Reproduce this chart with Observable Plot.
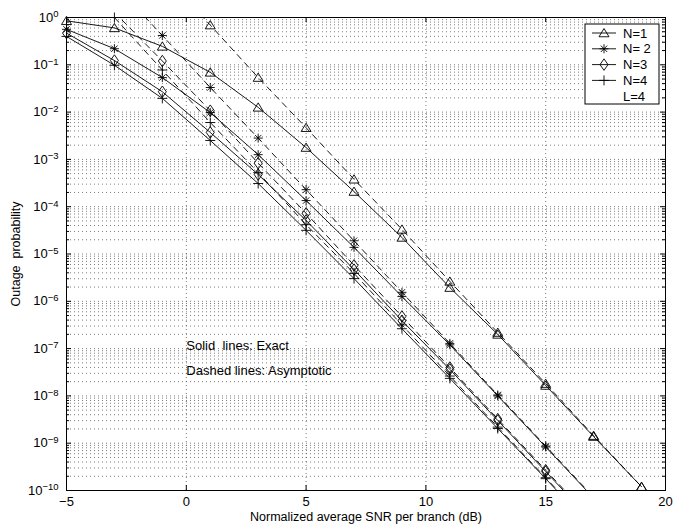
<!DOCTYPE html>
<html><head><meta charset="utf-8">
<script src="https://cdn.jsdelivr.net/npm/d3@7"></script>
<script src="https://cdn.jsdelivr.net/npm/@observablehq/plot@0.6"></script>
<style>body{margin:0;background:#fff;} #chart svg{display:block;}</style>
</head><body><div id="chart"></div>
<script>
// ---------- data (log10 of outage probability; null = no point) ----------
const snr = [-5, -3, -1, 1, 3, 5, 7, 9, 11, 13, 15, 17, 19];
const n1ExactLog = [-0.07, -0.22, -0.61, -1.16, -1.90, -2.75, -3.68, -4.65, -5.71, -6.70, -7.78, -8.86, -9.92];
const n1AsymLog  = [null, null, 0.92, -0.16, -1.27, -2.33, -3.42, -4.48, -5.58, -6.66, -7.74, -8.84, -9.92];
const n2ExactLog = [-0.25, -0.66, -1.27, -2.01, -2.90, -3.87, -4.86, -5.90, -6.92, -8.00, -9.08, -10.16, null];
const n2AsymLog  = [null, 0.70, -0.38, -1.48, -2.55, -3.64, -4.72, -5.81, -6.89, -7.98, -9.06, -10.14, null];
const n3ExactLog = [-0.33, -0.91, -1.57, -2.43, -3.32, -4.29, -5.33, -6.41, -7.44, -8.52, -9.60, -10.68, null];
const n3AsymLog  = [null, 0.11, -0.92, -1.97, -3.08, -4.14, -5.24, -6.32, -7.40, -8.49, -9.57, -10.65, null];
const n4ExactLog = [-0.40, -1.01, -1.71, -2.60, -3.51, -4.50, -5.52, -6.58, -7.63, -8.69, -9.75, -10.83, null];
const n4AsymLog  = [null, 0.00, -1.11, -2.22, -3.28, -4.38, -5.41, -6.50, -7.58, -8.66, -9.73, -10.81, null];

const seriesNames = ["N=1", "N=2", "N=3", "N=4"];
const legendLabels = ["N=1", "N= 2", "N=3", "N=4", "L=4"];
const xTicks = [-5, 0, 5, 10, 15, 20];
const xGridValues = [0, 5, 10, 15];
const yExponents = [-10, -9, -8, -7, -6, -5, -4, -3, -2, -1, 0];
const annotationText = ["Solid  lines: Exact", "Dashed lines: Asymptotic"];
const annotationSnr = [0, 0];
const annotationLog = [-6.95, -7.46];
const xLabel = "Normalized average SNR per branch (dB)";
const yLabel = "Outage  probability";

// ---------- MATLAB-like marker symbols ----------
const rad = (size) => Math.sqrt(size / Math.PI);
const symTriangle = {draw(c, size) { const s = rad(size); c.moveTo(0, -0.9 * s); c.lineTo(s, 0.75 * s); c.lineTo(-s, 0.75 * s); c.closePath(); }};
const symStar = {draw(c, size) { const s = rad(size), a = 0.9 * s, b = 0.64 * s;
  c.moveTo(-a, 0); c.lineTo(a, 0); c.moveTo(0, -a); c.lineTo(0, a);
  c.moveTo(-b, -b); c.lineTo(b, b); c.moveTo(-b, b); c.lineTo(b, -b); }};
const symDiamond = {draw(c, size) { const s = rad(size); c.moveTo(0, -1.15 * s); c.lineTo(0.8 * s, 0); c.lineTo(0, 1.15 * s); c.lineTo(-0.8 * s, 0); c.closePath(); }};
const symPlus = {draw(c, size) { const s = rad(size); c.moveTo(-s, 0); c.lineTo(s, 0); c.moveTo(0, -s); c.lineTo(0, s); }};
const symbols = [symTriangle, symStar, symDiamond, symPlus];

const exactSets = [n1ExactLog, n2ExactLog, n3ExactLog, n4ExactLog];
const asymSets = [n1AsymLog, n2AsymLog, n3AsymLog, n4AsymLog];

const rows = [];
seriesNames.forEach((name, k) => {
  [["exact", exactSets[k]], ["asym", asymSets[k]]].forEach(([kind, arr]) => {
    arr.forEach((v, i) => { if (v !== null) rows.push({series: name, kind, key: name + kind, snr: snr[i], p: Math.pow(10, v)}); });
  });
});
const visible = (d) => d.p >= 0.95e-10 && d.p <= 1.02;

const yMajor = yExponents.map(e => Math.pow(10, e));
const yMinor = [];
yExponents.slice(0, -1).forEach(e => { for (let m = 2; m <= 9; m++) yMinor.push(m * Math.pow(10, e)); });

const W = 683, H = 527, mL = 66, mR = 18, mT = 17, mB = 37;
const fw = W - mL - mR, fh = H - mT - mB;
const gridStyle = {stroke: "#444", strokeWidth: 0.7, strokeDasharray: "1,3"};

const marks = [
  Plot.ruleY([...yMajor, ...yMinor], gridStyle),
  Plot.ruleX(xGridValues, gridStyle),
  Plot.line(rows.filter(d => d.kind === "exact"), {x: "snr", y: "p", z: "key", stroke: "black", strokeWidth: 0.9, clip: true}),
  Plot.line(rows.filter(d => d.kind === "asym"), {x: "snr", y: "p", z: "key", stroke: "black", strokeWidth: 0.9, strokeDasharray: "6,5", clip: true}),
  ...seriesNames.map((name, k) => Plot.dot(rows.filter(d => d.series === name && visible(d)),
    {x: "snr", y: "p", symbol: symbols[k], r: 5, stroke: "black", strokeWidth: 0.9, fill: "none"})),
  // inner ticks
  Plot.ruleX(xTicks, {insetTop: fh - 5, stroke: "black"}),
  Plot.ruleX(xTicks, {insetBottom: fh - 5, stroke: "black"}),
  Plot.ruleY(yMajor, {insetRight: fw - 5, stroke: "black"}),
  Plot.ruleY(yMajor, {insetLeft: fw - 5, stroke: "black"}),
  Plot.ruleY(yMinor, {insetRight: fw - 3, stroke: "black"}),
  Plot.ruleY(yMinor, {insetLeft: fw - 3, stroke: "black"}),
  Plot.frame({stroke: "black", strokeWidth: 1}),
  Plot.axisX(xTicks, {tickSize: 0, tickPadding: 6, fontSize: 13, tickFormat: d => d < 0 ? "\u2212" + (-d) : String(d), label: null}),
  Plot.axisY(yMajor, {tickSize: 0, tickPadding: 8, fontSize: 13, tickFormat: d => "e" + Math.round(Math.log10(d)), label: null}),
  Plot.text(annotationText, {x: (d, i) => annotationSnr[i], y: (d, i) => Math.pow(10, annotationLog[i]), text: d => d, textAnchor: "start", fontSize: 13}),
  Plot.text([xLabel], {frameAnchor: "bottom", dy: 30, text: d => d, textAnchor: "middle", fontSize: 12.5}),
  Plot.text([yLabel], {frameAnchor: "left", dx: -51, rotate: -90, text: d => d, textAnchor: "middle", fontSize: 12.5})
];

const plot = Plot.plot({
  width: W, height: H,
  marginLeft: mL, marginRight: mR, marginTop: mT, marginBottom: mB,
  x: {domain: [-5, 20]},
  y: {type: "log", domain: [1e-10, 1]},
  style: {fontFamily: "'Liberation Sans', Arial, Helvetica, sans-serif", fontSize: "13px", background: "white", color: "black"},
  marks
});
document.getElementById("chart").appendChild(plot);

const svg = d3.select(plot);
// superscript y tick labels
svg.selectAll('g[aria-label="y-axis tick label"] text').each(function() {
  const t = d3.select(this);
  const e = +t.text().slice(1);
  t.text("");
  t.append("tspan").text("10");
  t.append("tspan").attr("dy", "-0.45em").attr("font-size", "9.5px").text(e < 0 ? "\u2212" + (-e) : String(e));
});

// legend
const lg = svg.append("g").attr("font-family", "'Liberation Sans', Arial, sans-serif").attr("font-size", 13).attr("text-anchor", "start");
lg.append("rect").attr("x", 585).attr("y", 24).attr("width", 74).attr("height", 80)
  .attr("fill", "white").attr("stroke", "black").attr("stroke-width", 1);
legendLabels.forEach((lab, i) => {
  const y = 33 + i * 15.8;
  if (i < 4) {
    lg.append("line").attr("x1", 592).attr("x2", 616).attr("y1", y).attr("y2", y).attr("stroke", "black").attr("stroke-width", 0.9);
    lg.append("path").attr("d", d3.symbol(symbols[i], Math.PI * 25)()).attr("transform", `translate(604,${y})`)
      .attr("fill", "none").attr("stroke", "black").attr("stroke-width", 0.9);
  }
  lg.append("text").attr("x", 623).attr("y", y).attr("dy", "0.35em").attr("text-anchor", "start").text(lab);
});
</script>
</body></html>
